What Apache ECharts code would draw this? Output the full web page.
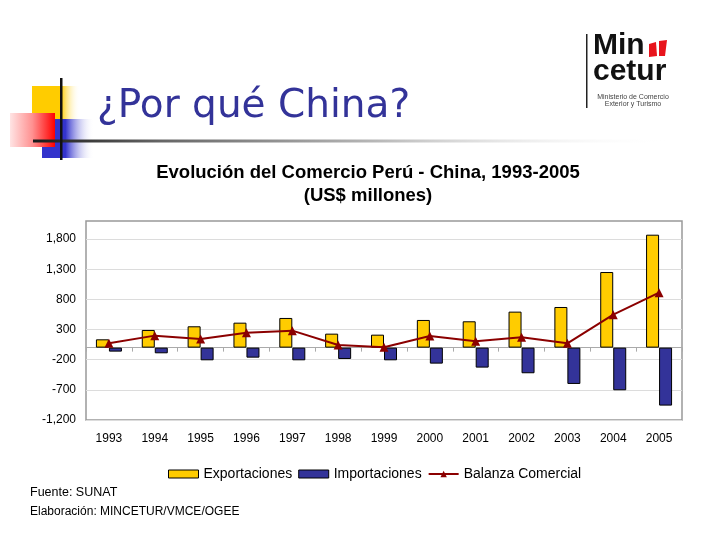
<!DOCTYPE html>
<html>
<head>
<meta charset="utf-8">
<script src="https://cdn.jsdelivr.net/npm/echarts@6/dist/echarts.min.js"></script>
<style>
html,body{margin:0;padding:0;background:#fff;}
#c{width:720px;height:540px;}
</style>
</head>
<body>
<div id="c"></div>
<script>
var years = ['1993','1994','1995','1996','1997','1998','1999','2000','2001','2002','2003','2004','2005'];
var exportaciones = [138, 293, 354, 414, 492, 232, 215, 459, 437, 597, 674, 1254, 1873];
var importaciones = [-66, -94, -210, -166, -210, -188, -210, -265, -331, -425, -602, -707, -961];
var balanza = [72, 199, 144, 248, 282, 44, 5, 194, 106, 172, 72, 547, 912];
var yTicks = [-1200, -700, -200, 300, 800, 1300, 1800];

var chart = echarts.init(document.getElementById('c'), null, {renderer: 'canvas'});
var F = 'Arial, "Liberation Sans", sans-serif';
var option = {
  backgroundColor: '#ffffff',
  animation: false,
  title: {
    text: 'Evolución del Comercio Perú - China, 1993-2005\n(US$ millones)',
    left: 363, top: 156, textAlign: 'center',
    textStyle: {fontFamily: F, fontSize: 18.5, fontWeight: 'bold', color: '#000', lineHeight: 23}
  },
  legend: {
    left: 163, top: 462,
    itemWidth: 30, itemHeight: 8, itemGap: 6,
    textStyle: {fontFamily: F, fontSize: 14, color: '#000'},
    data: [
      {name: 'Exportaciones', icon: 'rect', itemStyle: {borderWidth: 1, borderColor: '#000'}},
      {name: 'Importaciones', icon: 'rect', itemStyle: {borderWidth: 1, borderColor: '#000'}},
      {name: 'Balanza Comercial'}
    ]
  },
  grid: {
    left: 86, top: 221, right: 38, bottom: 120,
    show: true, borderColor: '#999', borderWidth: 1.5, backgroundColor: '#fff'
  },
  xAxis: [{
    type: 'category', data: years, position: 'bottom',
    axisLine: {show: false, onZero: false},
    axisTick: {show: false},
    axisLabel: {fontFamily: F, fontSize: 12, color: '#000', margin: 13},
    splitLine: {show: false}
  }, {
    type: 'category', data: years, position: 'top',
    axisLine: {show: true, onZero: true, lineStyle: {color: '#aaa', width: 1}},
    axisTick: {show: true, inside: true, length: 4, lineStyle: {color: '#aaa'}},
    axisLabel: {show: false},
    splitLine: {show: false}
  }],
  yAxis: {
    type: 'value', min: -1200, max: 2100,
    axisLine: {show: false},
    axisTick: {show: false, customValues: yTicks},
    axisLabel: {
      customValues: yTicks,
      fontFamily: F, fontSize: 12, color: '#000', margin: 10,
      formatter: function (v) { return Number(v).toLocaleString('en-US'); }
    },
    splitLine: {show: true, lineStyle: {color: '#dcdcdc', width: 1}}
  },
  series: [{
    name: 'Exportaciones', type: 'bar', data: exportaciones, xAxisIndex: 0,
    barWidth: 13, barGap: '0%',
    itemStyle: {color: '#FFCC00', borderColor: '#000', borderWidth: 1}
  }, {
    name: 'Importaciones', type: 'bar', data: importaciones, xAxisIndex: 0,
    barWidth: 13, barGap: '0%',
    itemStyle: {color: '#333399', borderColor: '#000', borderWidth: 1}
  }, {
    name: 'Balanza Comercial', type: 'line', data: balanza, xAxisIndex: 0,
    symbol: 'triangle', symbolSize: 9,
    lineStyle: {color: '#8B0000', width: 2},
    itemStyle: {color: '#8B0000'}
  }],
  graphic: [
    {type: 'rect', shape: {x: 32, y: 86, width: 48, height: 33}, silent: true,
     style: {fill: {type: 'linear', x: 0, y: 0, x2: 1, y2: 0, colorStops: [
       {offset: 0, color: '#FFCC00'}, {offset: 0.6, color: '#FFCC00'}, {offset: 1, color: 'rgba(255,255,255,0)'}]}}},
    {type: 'rect', shape: {x: 42, y: 119, width: 52, height: 39}, silent: true,
     style: {fill: {type: 'linear', x: 0, y: 0, x2: 1, y2: 0, colorStops: [
       {offset: 0, color: '#3333CC'}, {offset: 0.45, color: '#3333CC'}, {offset: 1, color: 'rgba(255,255,255,0)'}]}}},
    {type: 'rect', shape: {x: 10, y: 113, width: 45, height: 34}, silent: true,
     style: {fill: {type: 'linear', x: 0, y: 0, x2: 1, y2: 0, colorStops: [
       {offset: 0, color: '#FFE4E4'}, {offset: 0.5, color: '#FF9090'}, {offset: 1, color: '#FF0000'}]}}},
    {type: 'rect', shape: {x: 33, y: 139.5, width: 640, height: 3}, silent: true,
     style: {fill: {type: 'linear', x: 0, y: 0, x2: 1, y2: 0, colorStops: [
       {offset: 0, color: '#1a1a1a'}, {offset: 0.2, color: '#666'}, {offset: 0.55, color: '#bbb'}, {offset: 1, color: 'rgba(255,255,255,0)'}]}}},
    {type: 'rect', shape: {x: 60, y: 78, width: 2.5, height: 82}, silent: true, style: {fill: '#111'}},
    {type: 'text', left: 97, top: 87, silent: true,
     style: {text: '¿Por qué China?', fontFamily: '"DejaVu Sans", Verdana, sans-serif', fontSize: 39, fill: '#333399'}},
    {type: 'rect', shape: {x: 586, y: 34, width: 1.5, height: 74}, silent: true, style: {fill: '#222'}},
    {type: 'text', left: 593, top: 31, silent: true,
     style: {text: 'Min', fontFamily: F, fontSize: 30, fontWeight: 'bold', fill: '#111'}},
    {type: 'polygon', shape: {points: [[649, 44], [656, 42], [657, 56], [649, 57]]}, silent: true, style: {fill: '#E8141C'}},
    {type: 'polygon', shape: {points: [[659, 41], [667, 40], [665, 56], [659, 56]]}, silent: true, style: {fill: '#E8141C'}},
    {type: 'text', left: 593, top: 57, silent: true,
     style: {text: 'cetur', fontFamily: F, fontSize: 30, fontWeight: 'bold', fill: '#111'}},
    {type: 'text', x: 633, y: 97, silent: true,
     style: {text: 'Ministerio de Comercio', fontFamily: F, fontSize: 7, fill: '#444', align: 'center', verticalAlign: 'middle'}},
    {type: 'text', x: 633, y: 104.5, silent: true,
     style: {text: 'Exterior y Turismo', fontFamily: F, fontSize: 7, fill: '#444', align: 'center', verticalAlign: 'middle'}},
    {type: 'text', x: 30, y: 493, silent: true,
     style: {text: 'Fuente: SUNAT', fontFamily: F, fontSize: 12.5, fill: '#000', verticalAlign: 'middle'}},
    {type: 'text', x: 30, y: 512, silent: true,
     style: {text: 'Elaboración: MINCETUR/VMCE/OGEE', fontFamily: F, fontSize: 12, fill: '#000', verticalAlign: 'middle'}}
  ]
};
chart.setOption(option);
</script>
</body>
</html>
